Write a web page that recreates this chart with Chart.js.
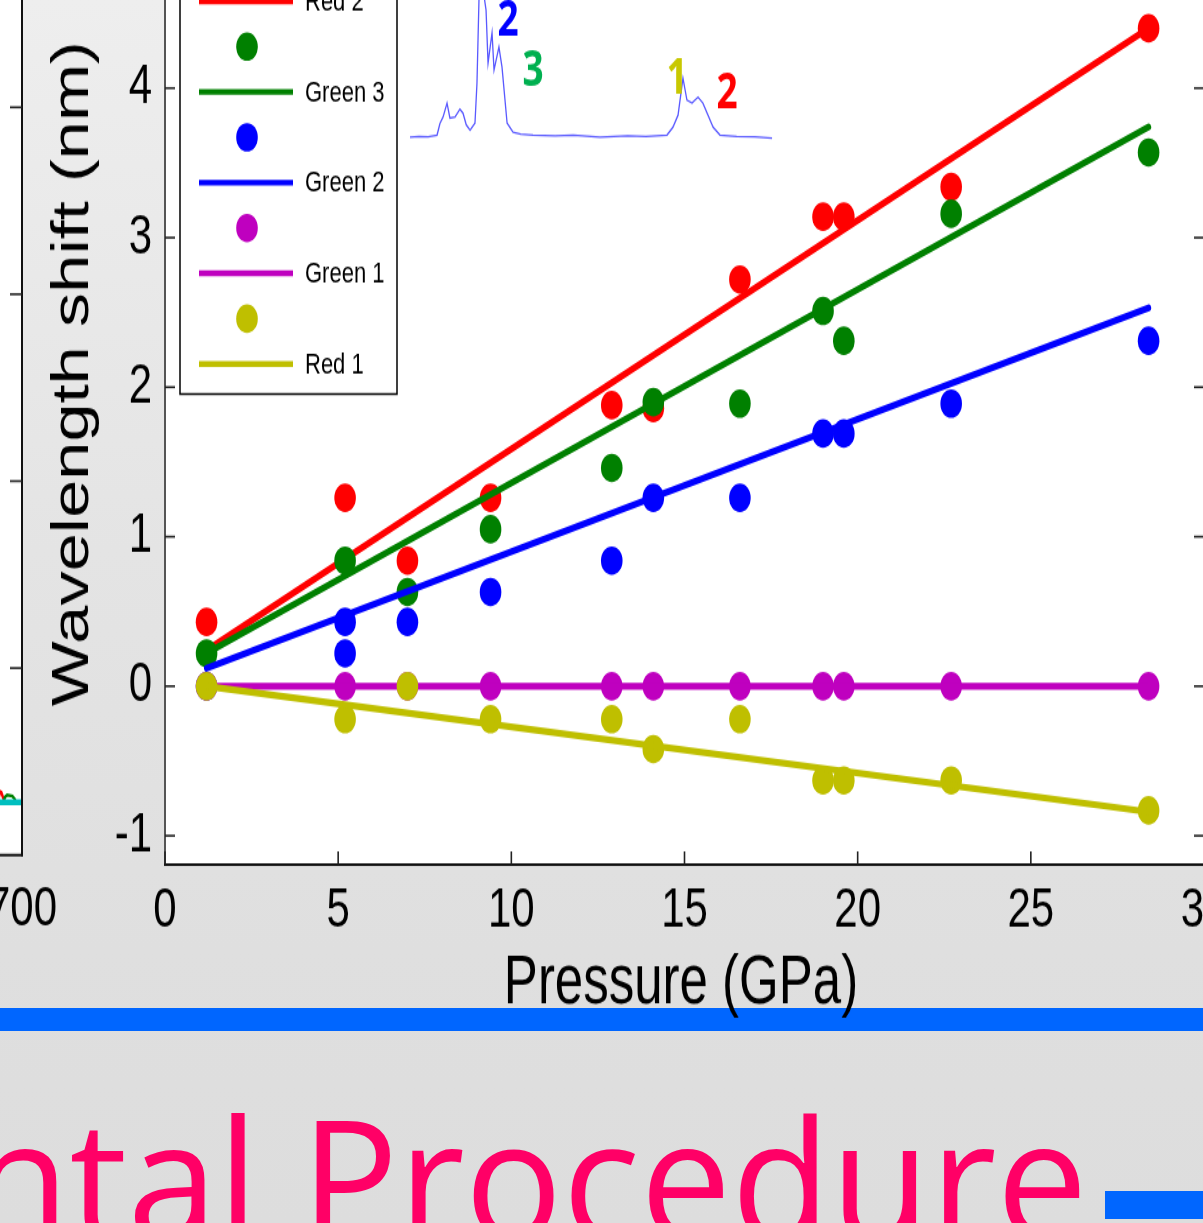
<!DOCTYPE html>
<html><head><meta charset="utf-8">
<script src="https://cdn.jsdelivr.net/npm/chart.js@4.4.1/dist/chart.umd.min.js"></script>
<style>
html,body{margin:0;padding:0;}
body{width:1203px;height:1223px;overflow:hidden;position:relative;
 background:linear-gradient(180deg,#eeeeee 0px,#e4e4e4 550px,#dfdfdf 950px,#dddddd 1223px);}
#bar{position:absolute;left:0;top:1008px;width:1203px;height:23px;background:#0066ff;}
#main{position:absolute;left:0;top:0;transform:scaleY(1.32);transform-origin:0 0;}
#side{position:absolute;left:-200px;top:0;transform:scaleY(1.32);transform-origin:0 0;}
#title{position:absolute;left:-30px;top:1092px;font-family:'Open Sans';font-size:167px;line-height:167px;color:#ff0066;white-space:nowrap;transform:scaleX(0.972);transform-origin:0 0;}
#dash{position:absolute;left:1105px;top:1191px;width:110px;height:28px;background:#0066ff;}
</style></head>
<body>
<div id="bar"></div>
<canvas id="side" width="260" height="775"></canvas>
<canvas id="main" width="1220" height="775"></canvas>
<div id="title">ntal Procedure</div>
<div id="dash"></div>
<script>
// ---------- data ----------
const pressure = [1.2, 5.2, 7.0, 9.4, 12.9, 14.1, 16.6, 19.0, 19.6, 22.7, 28.4];
const red2   = [0.43, 1.26, 0.84, 1.26, 1.88, 1.86, 2.72, 3.14, 3.14, 3.34, 4.40];
const green3 = [0.22, 0.84, 0.63, 1.05, 1.46, 1.90, 1.89, 2.51, 2.31, 3.16, 3.57];
const green2 = [0.00, 0.43, 0.43, 0.63, 0.84, 1.26, 1.26, 1.69, 1.69, 1.89, 2.31];
const green2ExtraP = [5.2];
const green2ExtraV = [0.22];
const green1 = [0, 0, 0, 0, 0, 0, 0, 0, 0, 0, 0];
const red1   = [0, -0.22, 0, -0.22, -0.22, -0.42, -0.22, -0.63, -0.63, -0.63, -0.83];

const fitP = [1.2, 28.4];
const fitRed2   = [0.24, 4.40];
const fitGreen3 = [0.22, 3.74];
const fitGreen2 = [0.12, 2.53];
const fitGreen1 = [0, 0];
const fitRed1   = [0, -0.84];

const seriesNames  = ['Red 2', 'Green 3', 'Green 2', 'Green 1', 'Red 1'];
const seriesColors = ['#ff0000', '#008000', '#0000ff', '#bf00bf', '#bfbf00'];

const xTicks = [0, 5, 10, 15, 20, 25, 30];
const yTicks = [-1, 0, 1, 2, 3, 4];
const xTitle = 'Pressure (GPa)';
const yTitle = 'Wavelength shift (nm)';

// inset spectrum (wavelength nm, normalised intensity)
const specNm = [500, 505, 510, 514.9, 516.5, 518.2, 520.4, 522.0, 524.8, 527.5, 529.2, 531, 533.1, 535.8, 536.9, 538.0, 538.6, 540.2, 541.1, 541.9, 543.0, 545.2, 546.3, 549.0, 550.7, 553.5, 556.8, 561, 567.8, 580, 590, 604.7, 620, 630, 641.6, 644.9, 647.7, 650.4, 652.6, 655.4, 658.7, 661.4, 667.0, 670.8, 680, 690, 699.5];
const specI  = [0, 0.005, 0.003, 0.015, 0.10, 0.146, 0.248, 0.139, 0.146, 0.204, 0.175, 0.09, 0.051, 0.102, 0.394, 1.0, 1.15, 1.15, 1.0, 0.927, 0.54, 0.76, 0.489, 0.657, 0.511, 0.102, 0.036, 0.022, 0.015, 0.01, 0.015, 0.0, 0.01, 0.005, 0.015, 0.073, 0.161, 0.431, 0.27, 0.248, 0.292, 0.248, 0.073, 0.015, 0.005, 0.003, -0.007];
const insetLabels   = ['2', '3', '1', '2'];
const insetLabelNm  = [554, 567.8, 647.1, 674.7];
const insetLabelI   = [0.839, 0.475, 0.422, 0.316];
const insetLabelCol = ['#0000ff', '#00b050', '#c8c800', '#ff0000'];

// neighbouring (cropped) panel on the left
const sideXTicks = [700];
const sideYTicks = [1, 2, 3, 4];
const sideCyanX = [600, 700];
const sideCyanY = [0.283, 0.283];
const sideRedX = [660, 668, 670, 672, 675, 677];
const sideRedY = [0.283, 0.29, 0.34, 0.335, 0.30, 0.283];
const sideGreenX = [675, 677, 680, 687, 690, 692];
const sideGreenY = [0.283, 0.31, 0.32, 0.315, 0.30, 0.283];

// ---------- helpers ----------
const FAM = '"Liberation Sans", Arial, Helvetica, sans-serif';
const pts = (xs, ys) => xs.map((x, i) => ({x: x, y: ys[i]}));
const R = 10.8;
function scatterDs(xs, ys, color, order) {
  return {data: pts(xs, ys), showLine: false, pointRadius: R, pointStyle: 'circle',
    backgroundColor: color, borderColor: color, pointBorderWidth: 0, order: order};
}
function fitDs(ys, color, order) {
  return {data: pts(fitP, ys), showLine: true, pointRadius: 0, borderWidth: 5.2,
    borderColor: color, borderCapStyle: 'round', fill: false, order: order};
}
function line(ctx, x1, y1, x2, y2) { ctx.beginPath(); ctx.moveTo(x1, y1); ctx.lineTo(x2, y2); ctx.stroke(); }

// ---------- main chart plugin ----------
const mainFrame = {
  id: 'mainFrame',
  beforeDraw(chart) {
    const {ctx, chartArea: a} = chart;
    ctx.save(); ctx.fillStyle = '#ffffff';
    ctx.fillRect(a.left, a.top, a.right - a.left, a.bottom - a.top);
    ctx.restore();
  },
  afterDraw(chart) {
    const {ctx, chartArea: a, scales} = chart;
    const xs = scales.x, ys = scales.y;
    ctx.save();
    ctx.strokeStyle = '#555'; ctx.lineWidth = 2;
    line(ctx, a.left, a.top, a.left, a.bottom);
    line(ctx, a.right, a.top, a.right, a.bottom);
    ctx.strokeStyle = '#111'; ctx.lineWidth = 2;
    line(ctx, a.left - 1, a.bottom, a.right + 1, a.bottom);
    ctx.lineWidth = 1.6; ctx.strokeStyle = '#222';
    ys.ticks.forEach(t => { const p = ys.getPixelForValue(t.value);
      line(ctx, a.left, p, a.left + 10, p); line(ctx, a.right - 10, p, a.right, p); });
    xs.ticks.forEach(t => { const p = xs.getPixelForValue(t.value);
      line(ctx, p, a.bottom, p, a.bottom - 10); });
    // legend
    const L = {left: 180, right: 397, top: -80, bottom: 298.5, y0: -33.4, step: 34.35, lx1: 199, lx2: 293, dx: 247, tx: 305};
    ctx.fillStyle = '#fff';
    ctx.fillRect(L.left, L.top, L.right - L.left, L.bottom - L.top);
    ctx.strokeStyle = '#000'; ctx.lineWidth = 1.5;
    ctx.strokeRect(L.left, L.top, L.right - L.left, L.bottom - L.top);
    ctx.font = '22px ' + FAM; ctx.textAlign = 'left'; ctx.textBaseline = 'middle';
    seriesNames.forEach((name, i) => {
      const yd = L.y0 + (2 * i) * L.step, yl = L.y0 + (2 * i + 1) * L.step;
      ctx.fillStyle = seriesColors[i];
      ctx.beginPath(); ctx.arc(L.dx, yd, R, 0, Math.PI * 2); ctx.fill();
      ctx.strokeStyle = seriesColors[i]; ctx.lineWidth = 4.4;
      line(ctx, L.lx1, yl, L.lx2, yl);
      ctx.fillStyle = '#000'; ctx.fillText(name, L.tx, yl + 1);
    });
    // axis titles
    ctx.fillStyle = '#000'; ctx.textAlign = 'center'; ctx.textBaseline = 'alphabetic';
    ctx.font = '51px ' + FAM;
    ctx.fillText(xTitle, 681, 760);
    ctx.save(); ctx.translate(88, 283); ctx.rotate(-Math.PI / 2);
    ctx.font = '52px ' + FAM; ctx.fillText(yTitle, 0, 0); ctx.restore();
    // inset labels
    const xi = scales.xi, yi = scales.yi;
    ctx.font = 'bold 37px "Open Sans", sans-serif'; ctx.textBaseline = 'middle';
    insetLabels.forEach((t, i) => {
      ctx.fillStyle = insetLabelCol[i];
      ctx.fillText(t, xi.getPixelForValue(insetLabelNm[i]), yi.getPixelForValue(insetLabelI[i]));
    });
    ctx.restore();
  }
};

const tickFont = {family: FAM, size: 42};
new Chart(document.getElementById('main'), {
  type: 'scatter',
  data: {datasets: [
    {data: pts(specNm, specI), showLine: true, pointRadius: 0, borderWidth: 1.3, borderColor: 'rgba(60,60,255,0.85)', xAxisID: 'xi', yAxisID: 'yi', order: 20},
    scatterDs(pressure, red2, seriesColors[0], 10),
    fitDs(fitRed2, seriesColors[0], 9),
    scatterDs(pressure, green3, seriesColors[1], 8),
    fitDs(fitGreen3, seriesColors[1], 7),
    scatterDs(pressure, green2, seriesColors[2], 6),
    scatterDs(green2ExtraP, green2ExtraV, seriesColors[2], 6),
    fitDs(fitGreen2, seriesColors[2], 5),
    scatterDs(pressure, green1, seriesColors[3], 4),
    fitDs(fitGreen1, seriesColors[3], 3),
    scatterDs(pressure, red1, seriesColors[4], 2),
    fitDs(fitRed1, seriesColors[4], 1)
  ]},
  options: {
    responsive: false, devicePixelRatio: 1, animation: false, events: [],
    layout: {autoPadding: false, padding: {left: 0, right: 16, top: 0, bottom: 0}},
    plugins: {legend: {display: false}, tooltip: {enabled: false}},
    scales: {
      x: {type: 'linear', position: 'bottom', min: 0, max: 30,
        afterBuildTicks: s => { s.ticks = xTicks.map(v => ({value: v})); },
        afterFit: s => { s.height = 775 - 655; s.paddingLeft = 0; s.paddingRight = 0; },
        grid: {display: false, drawTicks: false}, border: {display: false},
        ticks: {font: tickFont, color: '#000', padding: 10, maxRotation: 0, autoSkip: false}},
      y: {type: 'linear', position: 'left', min: -1.193, max: 4.589,
        afterBuildTicks: s => { s.ticks = yTicks.map(v => ({value: v})); },
        afterFit: s => { s.width = 165; s.paddingTop = 0; s.paddingBottom = 0; },
        grid: {display: false, drawTicks: false}, border: {display: false},
        ticks: {font: tickFont, color: '#000', padding: 13, autoSkip: false}},
      xi: {type: 'linear', display: false, min: 365, max: 937.5},
      yi: {type: 'linear', display: false, min: -5.305, max: 1.0}
    }
  },
  plugins: [mainFrame]
});

// ---------- left neighbouring panel ----------
const sideFrame = {
  id: 'sideFrame',
  beforeDraw(chart) {
    const {ctx, chartArea: a} = chart;
    ctx.save(); ctx.fillStyle = '#ffffff';
    ctx.fillRect(a.left, a.top, a.right - a.left, a.bottom - a.top); ctx.restore();
  },
  afterDraw(chart) {
    const {ctx, chartArea: a, scales} = chart;
    ctx.save(); ctx.strokeStyle = '#111'; ctx.lineWidth = 2;
    line(ctx, a.right, a.top, a.right, a.bottom + 1);
    line(ctx, a.left, a.bottom, a.right + 1, a.bottom);
    ctx.lineWidth = 1.6; ctx.strokeStyle = '#222';
    sideYTicks.forEach(v => { const p = scales.y.getPixelForValue(v); line(ctx, a.right - 12, p, a.right, p); });
    ctx.restore();
  }
};
new Chart(document.getElementById('side'), {
  type: 'scatter',
  data: {datasets: [
    {data: pts(sideCyanX, sideCyanY), showLine: true, pointRadius: 0, borderWidth: 4.5, borderColor: '#00bfbf', order: 1},
    {data: pts(sideGreenX, sideGreenY), showLine: true, pointRadius: 0, borderWidth: 2.5, borderColor: '#008000', order: 2},
    {data: pts(sideRedX, sideRedY), showLine: true, pointRadius: 0, borderWidth: 2.5, borderColor: '#ff0000', order: 3}
  ]},
  options: {
    responsive: false, devicePixelRatio: 1, animation: false, events: [],
    layout: {autoPadding: false, padding: {left: 0, right: 38, top: 0, bottom: 0}},
    plugins: {legend: {display: false}, tooltip: {enabled: false}},
    scales: {
      x: {type: 'linear', min: 400, max: 700,
        afterBuildTicks: s => { s.ticks = sideXTicks.map(v => ({value: v})); },
        afterFit: s => { s.height = 775 - 647.7; s.paddingLeft = 0; s.paddingRight = 0; },
        grid: {display: false, drawTicks: false}, border: {display: false},
        ticks: {font: tickFont, color: '#000', padding: 17, maxRotation: 0, autoSkip: false}},
      y: {type: 'linear', display: false, min: 0, max: 4.574}
    }
  },
  plugins: [sideFrame]
});
</script>
</body></html>
